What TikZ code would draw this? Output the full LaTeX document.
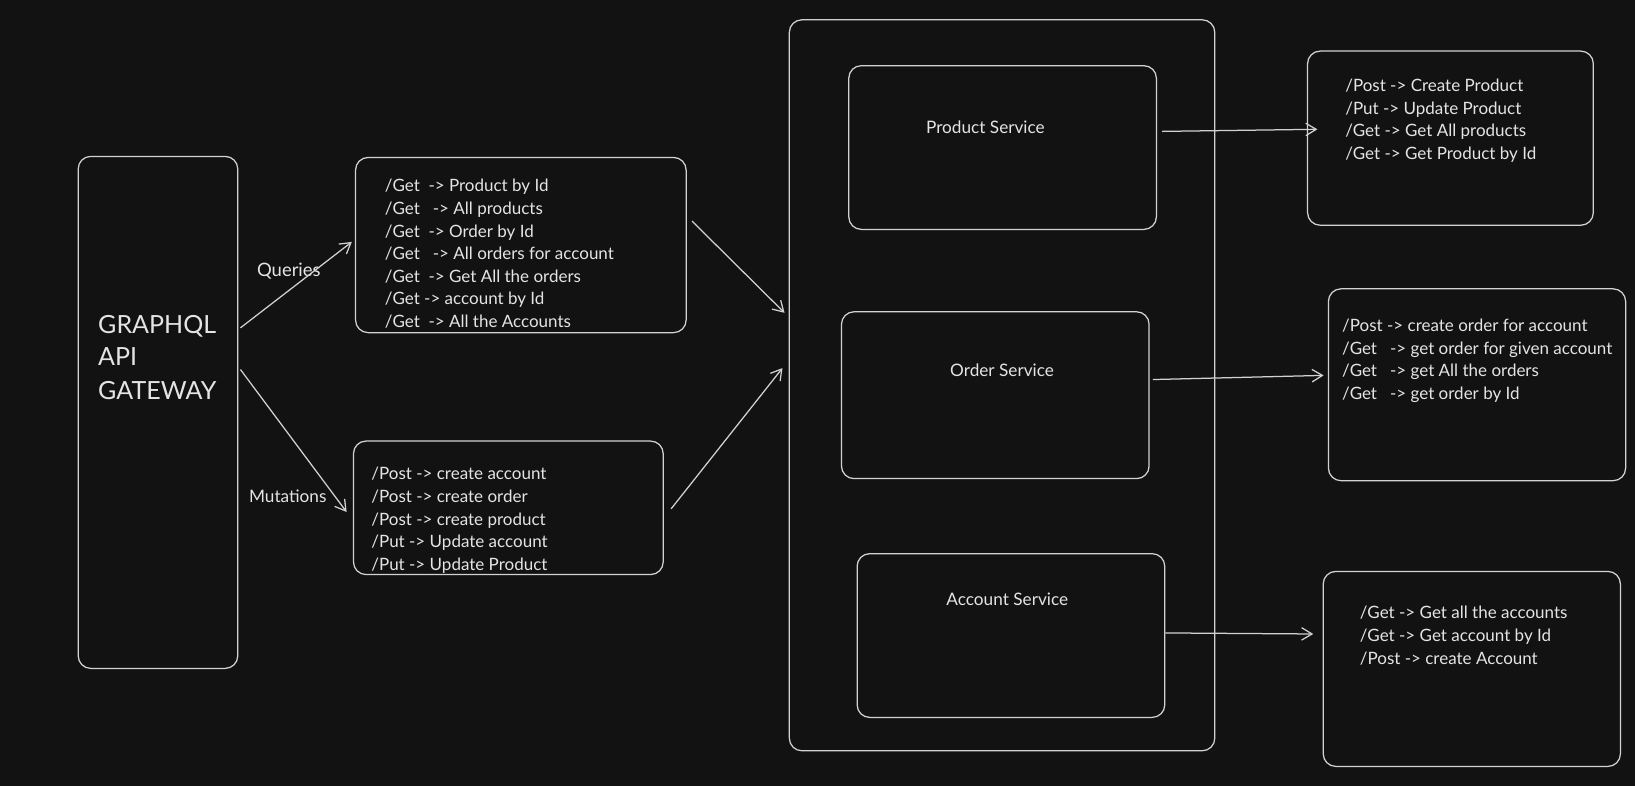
\documentclass[tikz,border=0pt]{standalone}
\usepackage{fontspec}
\setmainfont{Lato}
\usetikzlibrary{arrows.meta,calc}
\definecolor{bg}{HTML}{121212}
\definecolor{ink}{HTML}{D2D2D2}
\definecolor{txt}{HTML}{E4E4E4}
\begin{document}
\begin{tikzpicture}[x=1pt,y=-1pt,
  box/.style={draw=ink, line width=1.2pt, rounded corners=12pt, rectangle, inner sep=0pt},
  arr/.style={draw=ink, line width=1.2pt, -{Straight Barb[length=10pt,width=12pt,line width=1.2pt]}},
  lst/.style={anchor=base west, inner sep=0pt, text=txt, font=\fontsize{16.3}{19}\selectfont},
  lbl/.style={text=txt, inner sep=0pt, font=\fontsize{16.5}{19}\selectfont},
  big/.style={anchor=base west, inner sep=0pt, text=txt, font=\fontsize{24}{28}\selectfont}]
\fill[bg] (0,0) rectangle (1568,754);
\useasboundingbox (0,0) rectangle (1568,754);

% boxes
\node[box, minimum width=153pt, minimum height=491pt] (gw) at (151.5,395.5) {};
\node[box, minimum width=317pt, minimum height=168pt] (qb) at (499.5,235) {};
\node[box, minimum width=297pt, minimum height=128pt] (mb) at (487.5,487) {};
\node[box, minimum width=408pt, minimum height=701pt] (ct) at (961,369.5) {};
\node[box, minimum width=295pt, minimum height=157pt] (ps) at (961.5,141.5) {};
\node[box, minimum width=295pt, minimum height=160pt] (os) at (954.5,379) {};
\node[box, minimum width=295pt, minimum height=157pt] (as) at (969.5,609.5) {};
\node[box, minimum width=274pt, minimum height=167pt] (pe) at (1391,132.5) {};
\node[box, minimum width=285pt, minimum height=184pt] (oe) at (1416.5,369) {};
\node[box, minimum width=285pt, minimum height=187pt] (ae) at (1411.5,641.5) {};

% gateway text
\node[big] (gw1) at (94,319.5) {GRAPHQL};
\node[big] (gw2) at (94,350.5) {API};
\node[big] (gw3) at (94,383.5) {GATEWAY};

% labels
\node[lbl, font=\fontsize{17.7}{20}\selectfont] (ql) at (277,260) {Queries};
\node[lbl] (ml) at (276,476) {Mutations};
\node[lbl] (psl) at (945,122) {Product Service};
\node[lbl] (osl) at (961,355) {Order Service};
\node[lbl] (asl) at (966,575) {Account Service};

% queries list
\foreach \t [count=\i] in {{/Get\ \ -> Product by Id},{/Get\ \ \ -> All products},{/Get\ \ -> Order by Id},{/Get\ \ \ -> All orders for account},{/Get\ \ -> Get All the orders},{/Get -> account by Id},{/Get\ \ -> All the Accounts}}
  \node[lst] (q\i) at (369,{184+21.67*(\i-1)}) {\t};
% mutations list
\foreach \t [count=\i] in {{/Post -> create account},{/Post -> create order},{/Post -> create product},{/Put -> Update account},{/Put -> Update Product}}
  \node[lst] (m\i) at (356,{460+21.75*(\i-1)}) {\t};
% product endpoints
\foreach \t [count=\i] in {{/Post -> Create Product},{/Put -> Update Product},{/Get -> Get All products},{/Get -> Get Product by Id}}
  \node[lst] (p\i) at (1290,{88+21.67*(\i-1)}) {\t};
% order endpoints
\foreach \t [count=\i] in {{/Post -> create order for account},{/Get\ \ \ -> get order for given account},{/Get\ \ \ -> get All the orders},{/Get\ \ \ -> get order by Id}}
  \node[lst] (o\i) at (1287,{318+21.67*(\i-1)}) {\t};
% account endpoints
\foreach \t [count=\i] in {{/Get -> Get all the accounts},{/Get -> Get account by Id},{/Post -> create Account}}
  \node[lst] (a\i) at (1304,{593+22*(\i-1)}) {\t};

% arrows
\draw[arr] ($(gw.north east)+(2,165)$) -- ($(qb.west)+(-3,-3)$);
\draw[arr] ($(gw.north east)+(2,205)$) -- ($(mb.west)+(-6,4)$);
\draw[arr] ($(qb.east)+(5,-23)$) -- ($(ct.west)+(-4,-69.5)$);
\draw[arr] ($(mb.east)+(7,1)$) -- ($(ct.west)+(-6,-16.5)$);
\draw[arr] ($(ps.east)+(5,-15.5)$) -- ($(pe.west)+(10,-8.5)$);
\draw[arr] ($(os.east)+(3,-15)$) -- ($(oe.west)+(-4,-9)$);
\draw[arr] ($(as.east)+(0,-2.5)$) -- ($(ae.west)+(-9,-33.5)$);
\end{tikzpicture}
\end{document}
